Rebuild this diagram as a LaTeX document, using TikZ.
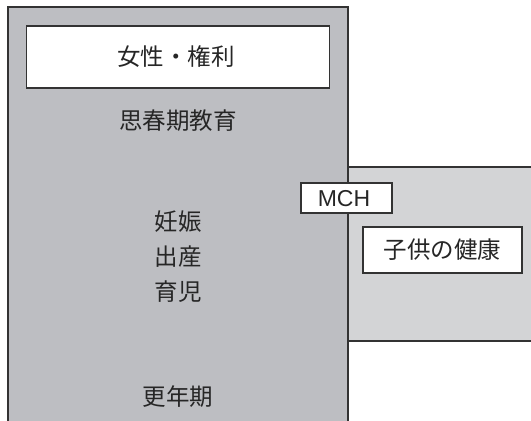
\documentclass[tikz,border=0pt]{standalone}
\usepackage{fontspec}
\setmainfont{Liberation Sans}
\newfontfamily\cjk{Noto Sans CJK JP}
\definecolor{grayL}{HTML}{BDBEC2}
\definecolor{grayR}{HTML}{D3D4D6}
\definecolor{edge}{HTML}{333333}
\begin{document}
\begin{tikzpicture}[x=1pt,y=-1pt,
  wbox/.style={draw=edge,line width=1.3pt,fill=white,inner sep=0pt},
  lbl/.style={font=\cjk\fontsize{23.5}{26}\selectfont,text=black!85,inner sep=0pt}]
\useasboundingbox (0,0) rectangle (531,421);
\begin{scope}
\clip (0,0) rectangle (531,421);
% right panel
\fill[grayR] (348,167) rectangle (540,341);
\draw[edge,line width=1.3pt] (348,167) -- (540,167) (348,341) -- (540,341);
% left panel
\fill[grayL] (8,7) rectangle (348,430);
\draw[edge,line width=1.3pt] (8,430) -- (8,7) -- (348,7) -- (348,430);
\end{scope}
\node[wbox,minimum width=303pt,minimum height=62pt] (top) at (178,57) {};
\node[lbl] (t1) at (176,57) {女性・権利};
\node[lbl] (t2) at (178,121) {思春期教育};
\node[lbl] (t3) at (178,222) {妊娠};
\node[lbl] (t4) at (178,257) {出産};
\node[lbl] (t5) at (178,292) {育児};
\node[lbl] (t6) at (178,397) {更年期};
\node[wbox,minimum width=91pt,minimum height=30pt] (mch) at (346.5,198) {};
\node[font=\fontsize{23}{26}\selectfont,text=black!85,inner sep=0pt] (mt) at (344,198.5) {MCH};
\node[wbox,minimum width=159pt,minimum height=46pt] (kid) at (442.5,250) {};
\node[lbl] (t7) at (442.5,250) {子供の健康};
\end{tikzpicture}
\end{document}
